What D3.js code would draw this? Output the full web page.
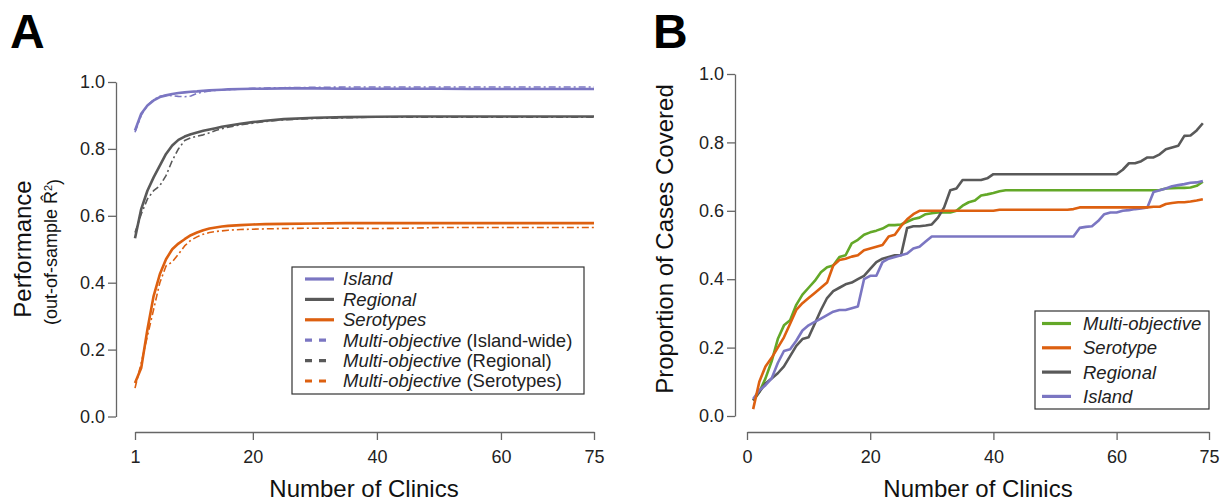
<!DOCTYPE html>
<html>
<head>
<meta charset="utf-8">
<script src="https://cdn.jsdelivr.net/npm/d3@7"></script>
<style>
  html, body { margin: 0; padding: 0; background: #fff; }
  svg { display: block; font-family: "Liberation Sans", Arial, Helvetica, sans-serif; }
  .axis path, .axis line { stroke: #666; stroke-width: 1.3; }
  .axis text { font-size: 18px; fill: #222; }
</style>
</head>
<body>
<svg id="chart" width="1227" height="503"></svg>
<script>
// Panel A: performance vs number of clinics
const clinicsA = [1, 2, 3, 4, 5, 6, 7, 8, 9, 10, 11, 12, 13, 14, 15, 16, 18, 20, 22, 25, 30, 35, 40, 45, 50, 55, 60, 65, 70, 75];
const islandA = [0.855, 0.905, 0.93, 0.945, 0.955, 0.96, 0.964, 0.967, 0.969, 0.971, 0.972, 0.974, 0.975, 0.976, 0.977, 0.978, 0.979, 0.98, 0.98, 0.981, 0.981, 0.98, 0.98, 0.98, 0.98, 0.979, 0.979, 0.979, 0.979, 0.979];
const regionalA = [0.533, 0.62, 0.675, 0.715, 0.75, 0.785, 0.81, 0.827, 0.837, 0.844, 0.849, 0.854, 0.858, 0.862, 0.866, 0.869, 0.875, 0.88, 0.884, 0.889, 0.893, 0.895, 0.896, 0.897, 0.897, 0.897, 0.897, 0.897, 0.897, 0.897];
const serotypesA = [0.1, 0.145, 0.26, 0.36, 0.425, 0.47, 0.5, 0.517, 0.53, 0.542, 0.55, 0.557, 0.562, 0.565, 0.568, 0.57, 0.572, 0.574, 0.575, 0.576, 0.577, 0.578, 0.578, 0.578, 0.578, 0.578, 0.578, 0.578, 0.578, 0.578];
const moIslandA = [0.85, 0.9, 0.93, 0.947, 0.957, 0.96, 0.959, 0.957, 0.956, 0.958, 0.966, 0.97, 0.973, 0.975, 0.976, 0.977, 0.979, 0.981, 0.982, 0.983, 0.984, 0.985, 0.985, 0.985, 0.985, 0.985, 0.985, 0.985, 0.985, 0.985];
const moRegionalA = [0.55, 0.605, 0.65, 0.675, 0.69, 0.72, 0.765, 0.8, 0.825, 0.833, 0.838, 0.842, 0.848, 0.855, 0.86, 0.865, 0.872, 0.877, 0.882, 0.887, 0.891, 0.893, 0.895, 0.895, 0.895, 0.895, 0.895, 0.895, 0.895, 0.895];
const moSerotypesA = [0.085, 0.16, 0.24, 0.32, 0.4, 0.45, 0.462, 0.485, 0.51, 0.527, 0.537, 0.545, 0.55, 0.553, 0.555, 0.557, 0.559, 0.56, 0.561, 0.562, 0.563, 0.563, 0.562, 0.563, 0.565, 0.565, 0.565, 0.565, 0.565, 0.565];

// Panel B: proportion of cases covered, one value per clinic count (1..74)
const multiObjectiveB = [0.045, 0.07, 0.11, 0.16, 0.225, 0.265, 0.28, 0.325, 0.355, 0.375,
  0.395, 0.42, 0.435, 0.44, 0.465, 0.47, 0.505, 0.515, 0.53, 0.537,
  0.542, 0.548, 0.558, 0.558, 0.56, 0.568, 0.576, 0.58, 0.59, 0.593,
  0.595, 0.595, 0.595, 0.6, 0.615, 0.625, 0.63, 0.645, 0.648, 0.652,
  0.657, 0.66, 0.66, 0.66, 0.66, 0.66, 0.66, 0.66, 0.66, 0.66,
  0.66, 0.66, 0.66, 0.66, 0.66, 0.66, 0.66, 0.66, 0.66, 0.66,
  0.66, 0.66, 0.66, 0.66, 0.66, 0.66, 0.661, 0.665, 0.666, 0.667,
  0.667, 0.668, 0.673, 0.685];
const serotypeB = [0.02, 0.1, 0.145, 0.17, 0.2, 0.23, 0.27, 0.31, 0.33, 0.345,
  0.36, 0.375, 0.39, 0.44, 0.456, 0.46, 0.466, 0.47, 0.485, 0.49,
  0.495, 0.5, 0.525, 0.53, 0.555, 0.575, 0.59, 0.6, 0.6, 0.6,
  0.6, 0.6, 0.6, 0.6, 0.6, 0.6, 0.6, 0.6, 0.6, 0.6,
  0.603, 0.603, 0.603, 0.603, 0.603, 0.603, 0.603, 0.603, 0.603, 0.603,
  0.603, 0.603, 0.605, 0.61, 0.61, 0.61, 0.61, 0.61, 0.61, 0.61,
  0.61, 0.61, 0.61, 0.61, 0.61, 0.612, 0.612, 0.62, 0.623, 0.625,
  0.625, 0.627, 0.63, 0.634];
const regionalB = [0.045, 0.07, 0.095, 0.11, 0.125, 0.145, 0.175, 0.205, 0.225, 0.23,
  0.27, 0.31, 0.345, 0.365, 0.375, 0.385, 0.39, 0.4, 0.41, 0.43,
  0.45, 0.46, 0.465, 0.47, 0.47, 0.55, 0.555, 0.555, 0.557, 0.56,
  0.58, 0.61, 0.66, 0.665, 0.69, 0.69, 0.69, 0.69, 0.695, 0.707,
  0.707, 0.707, 0.707, 0.707, 0.707, 0.707, 0.707, 0.707, 0.707, 0.707,
  0.707, 0.707, 0.707, 0.707, 0.707, 0.707, 0.707, 0.707, 0.707, 0.707,
  0.72, 0.739, 0.739, 0.745, 0.756, 0.756, 0.765, 0.78, 0.785, 0.79,
  0.819, 0.82, 0.835, 0.856];
const islandB = [0.05, 0.075, 0.09, 0.11, 0.155, 0.19, 0.195, 0.22, 0.25, 0.265,
  0.275, 0.285, 0.295, 0.305, 0.31, 0.31, 0.315, 0.32, 0.4, 0.41,
  0.41, 0.45, 0.46, 0.465, 0.47, 0.475, 0.49, 0.495, 0.51, 0.525,
  0.525, 0.525, 0.525, 0.525, 0.525, 0.525, 0.525, 0.525, 0.525, 0.525,
  0.525, 0.525, 0.525, 0.525, 0.525, 0.525, 0.525, 0.525, 0.525, 0.525,
  0.525, 0.525, 0.525, 0.55, 0.553, 0.555, 0.57, 0.59, 0.595, 0.595,
  0.6, 0.602, 0.605, 0.607, 0.61, 0.655, 0.66, 0.665, 0.672, 0.675,
  0.678, 0.682, 0.683, 0.687];

const yTicks = [0, 0.2, 0.4, 0.6, 0.8, 1.0];
const xTicksA = [1, 20, 40, 60, 75];
const xTicksB = [0, 20, 40, 60, 75];

const colors = { island: "#7b76c2", regional: "#595959", serotype: "#dd6010", multi: "#63a828" };

const svg = d3.select("#chart");

function drawAxes(xScale, yScale, xTicks, yAxisX, xAxisY) {
  svg.append("g")
    .attr("class", "axis")
    .attr("transform", `translate(${yAxisX},0)`)
    .call(d3.axisLeft(yScale).tickValues(yTicks).tickFormat(d3.format(".1f"))
      .tickSize(8).tickSizeOuter(0).tickPadding(3));

  svg.append("g")
    .attr("class", "axis")
    .attr("transform", `translate(0,${xAxisY})`)
    .call(d3.axisBottom(xScale).tickValues(xTicks).tickFormat(d3.format("d"))
      .tickSize(8).tickSizeOuter(0).tickPadding(10));
}

// ---------- Panel A ----------
const xA = d3.scaleLinear().domain([1, 75]).range([135, 594]);
const yA = d3.scaleLinear().domain([0, 1]).range([416.5, 82]);

drawAxes(xA, yA, xTicksA, 116, 432);

const lineA = d3.line().x((d) => xA(d[0])).y((d) => yA(d[1]));

const seriesA = [
  { values: islandA, color: colors.island, dashed: false },
  { values: regionalA, color: colors.regional, dashed: false },
  { values: serotypesA, color: colors.serotype, dashed: false },
  { values: moIslandA, color: colors.island, dashed: true },
  { values: moRegionalA, color: colors.regional, dashed: true },
  { values: moSerotypesA, color: colors.serotype, dashed: true }
];

svg.append("g").selectAll("path")
  .data(seriesA)
  .join("path")
  .attr("fill", "none")
  .attr("stroke", (d) => d.color)
  .attr("stroke-width", (d) => d.dashed ? 1.6 : 2.6)
  .attr("stroke-dasharray", (d) => d.dashed ? "7,3,2,3" : null)
  .attr("stroke-linejoin", "round")
  .attr("d", (d) => lineA(clinicsA.map((c, i) => [c, d.values[i]])));

// legend A
const legendA = [
  { italic: "Island", plain: "", color: colors.island, dashed: false },
  { italic: "Regional", plain: "", color: colors.regional, dashed: false },
  { italic: "Serotypes", plain: "", color: colors.serotype, dashed: false },
  { italic: "Multi-objective", plain: " (Island-wide)", color: colors.island, dashed: true },
  { italic: "Multi-objective", plain: " (Regional)", color: colors.regional, dashed: true },
  { italic: "Multi-objective", plain: " (Serotypes)", color: colors.serotype, dashed: true }
];

svg.append("rect")
  .attr("x", 292).attr("y", 267).attr("width", 292).attr("height", 127)
  .attr("fill", "#fff").attr("stroke", "#333").attr("stroke-width", 1.2);

const legA = svg.append("g").selectAll("g")
  .data(legendA)
  .join("g")
  .attr("transform", (d, i) => `translate(0,${279 + i * 20.4})`);

legA.append("line")
  .attr("x1", 305).attr("x2", (d) => d.dashed ? 326 : 334)
  .attr("stroke", (d) => d.color)
  .attr("stroke-width", 3.2)
  .attr("stroke-dasharray", (d) => d.dashed ? "7,7" : null);

const legAText = legA.append("text")
  .attr("x", 343).attr("dy", "0.35em")
  .style("font-size", "18.5px").attr("fill", "#222");
legAText.append("tspan").style("font-style", "italic").text((d) => d.italic);
legAText.append("tspan").text((d) => d.plain);

// ---------- Panel B ----------
const xB = d3.scaleLinear().domain([0, 75]).range([747, 1209]);
const yB = d3.scaleLinear().domain([0, 1]).range([416, 74]);

drawAxes(xB, yB, xTicksB, 735, 432);

const lineB = d3.line().x((d, i) => xB(i + 1)).y((d) => yB(d));

const seriesB = [
  { values: multiObjectiveB, color: colors.multi },
  { values: regionalB, color: colors.regional },
  { values: islandB, color: colors.island },
  { values: serotypeB, color: colors.serotype }
];

svg.append("g").selectAll("path")
  .data(seriesB)
  .join("path")
  .attr("fill", "none")
  .attr("stroke", (d) => d.color)
  .attr("stroke-width", 2.6)
  .attr("stroke-linejoin", "round")
  .attr("d", (d) => lineB(d.values));

const legendB = [
  { label: "Multi-objective", color: colors.multi },
  { label: "Serotype", color: colors.serotype },
  { label: "Regional", color: colors.regional },
  { label: "Island", color: colors.island }
];

svg.append("rect")
  .attr("x", 1035).attr("y", 311).attr("width", 174).attr("height", 98)
  .attr("fill", "#fff").attr("stroke", "#333").attr("stroke-width", 1.2);

const legB = svg.append("g").selectAll("g")
  .data(legendB)
  .join("g")
  .attr("transform", (d, i) => `translate(0,${323.5 + i * 24.3})`);

legB.append("line")
  .attr("x1", 1042).attr("x2", 1071)
  .attr("stroke", (d) => d.color)
  .attr("stroke-width", 3.2);

legB.append("text")
  .attr("x", 1083).attr("dy", "0.35em")
  .style("font-size", "18.5px").style("font-style", "italic").attr("fill", "#222")
  .text((d) => d.label);

// ---------- titles ----------
svg.append("text")
  .attr("x", 364).attr("y", 497).attr("text-anchor", "middle")
  .style("font-size", "24px").attr("fill", "#111")
  .text("Number of Clinics");

svg.append("text")
  .attr("x", 978).attr("y", 497).attr("text-anchor", "middle")
  .style("font-size", "24px").attr("fill", "#111")
  .text("Number of Clinics");

svg.append("text")
  .attr("transform", "translate(31,249) rotate(-90)")
  .attr("text-anchor", "middle")
  .style("font-size", "24px").attr("fill", "#111")
  .text("Performance");

const subTitle = svg.append("text")
  .attr("transform", "translate(57,252) rotate(-90)")
  .attr("text-anchor", "middle")
  .style("font-size", "18px").attr("fill", "#111");
subTitle.append("tspan").text("(out-of-sample R\u0302");
subTitle.append("tspan").attr("dy", "-0.45em").style("font-size", "11px").text("2");
subTitle.append("tspan").attr("dy", "0.45em").text(")");

svg.append("text")
  .attr("transform", "translate(673,239) rotate(-90)")
  .attr("text-anchor", "middle")
  .style("font-size", "24px").attr("fill", "#111")
  .text("Proportion of Cases Covered");

// panel letters
svg.append("text")
  .attr("x", 10).attr("y", 48)
  .style("font-size", "48px").style("font-weight", "bold").attr("fill", "#000")
  .text("A");

svg.append("text")
  .attr("x", 653).attr("y", 48)
  .style("font-size", "48px").style("font-weight", "bold").attr("fill", "#000")
  .text("B");
</script>
</body>
</html>
